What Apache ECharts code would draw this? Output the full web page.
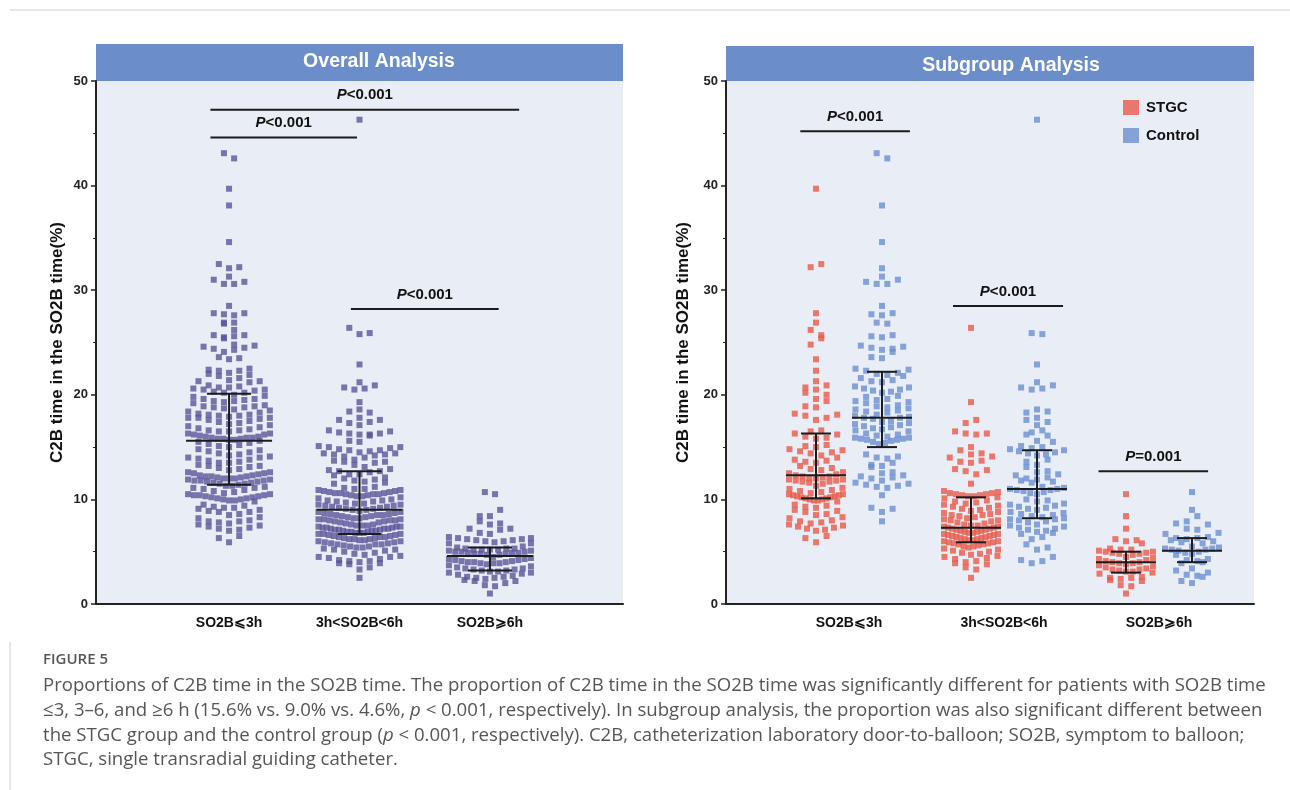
<!DOCTYPE html>
<html><head><meta charset="utf-8">
<script src="https://cdn.jsdelivr.net/npm/echarts@6/dist/echarts.min.js"></script>
<style>html,body{margin:0;padding:0;background:#fff}#c{width:1290px;height:790px}</style>
</head><body><div id="c"></div><script>
// ---------------- DATA ----------------
const categories = ['SO2B⩽3h', '3h<SO2B<6h', 'SO2B⩾6h'];
const yTicks = [0, 10, 20, 30, 40, 50];

const stgcLe3 = [39.7, 32.5, 32.2, 27.8, 26.9, 26.2, 25.7, 25.4, 24.8, 23.4, 22.3, 21.3, 20.9, 20.7, 20.5, 20.2, 20.0, 19.6, 19.4, 18.9, 18.8,
  18.2, 18.1, 18.0, 17.8, 17.6, 16.6, 16.5, 16.3, 16.2, 16.0, 15.9, 15.8,
  15.2, 15.1, 15.0, 14.8, 14.7, 14.6, 14.5, 14.4, 14.2, 14.0, 13.8, 13.7, 13.6, 13.5, 13.2, 13.0, 12.9, 12.8,
  12.6, 12.5, 12.4, 12.3, 12.2, 12.2, 12.1, 12.0, 12.0, 11.9, 11.9, 11.8, 11.8, 11.7, 11.7, 11.6, 11.5,
  11.3, 11.1, 11.0, 10.9, 10.8, 10.7, 10.6, 10.5, 10.5, 10.4, 10.4, 10.3, 10.3, 10.2, 10.2, 10.1, 10.1, 10.0, 10.0, 9.9, 9.9, 9.8,
  9.5, 9.4, 9.3, 9.2, 9.0, 8.9, 8.8, 8.6, 8.5, 8.3, 8.2, 8.0, 7.9, 7.8, 7.7, 7.6, 7.5, 7.4, 7.3, 7.2, 7.1, 7.0, 6.5, 6.3, 5.9];
const ctrlLe3 = [43.1, 42.6, 38.1, 34.6, 32.1, 31.3, 31.0, 30.8, 30.6, 30.6, 28.5, 27.8, 27.7, 27.6, 26.9, 26.8, 25.7, 25.6, 25.5,
  24.7, 24.6, 24.5, 24.4, 24.3, 24.1, 23.6, 23.5, 22.5, 22.4, 22.3, 22.1, 22.0, 21.9, 21.8, 21.6, 21.4, 21.3, 21.2,
  20.8, 20.7, 20.6, 20.5, 20.4, 20.3, 20.2, 19.9, 19.8, 19.6, 19.5, 19.4, 19.3, 19.2,
  19.0, 18.9, 18.8, 18.7, 18.6, 18.5, 18.4, 18.3, 18.1, 18.0, 17.9, 17.8, 17.8, 17.7,
  17.5, 17.4, 17.3, 17.2, 17.1, 17.0, 16.9, 16.8, 16.7, 16.6, 16.5,
  16.3, 16.2, 16.1, 16.0, 15.9, 15.9, 15.8, 15.8, 15.7, 15.7, 15.6, 15.5, 15.4, 15.3,
  14.3, 14.1, 14.0, 13.9, 13.5, 13.3, 13.2, 13.1, 12.6, 12.5, 12.3, 12.2, 12.1, 12.0, 11.8, 11.6, 11.5, 11.4, 11.3, 11.2, 11.1,
  10.4, 9.2, 9.1, 8.8, 7.9];
const stgc3to6 = [26.4, 19.3, 17.6, 17.3, 16.5, 16.3, 16.2, 16.3, 15.0, 14.7, 14.4, 14.3, 14.1, 14.0, 13.7, 13.6, 13.5, 12.9, 12.8, 12.7, 12.4, 11.5,
  10.8, 10.7, 10.6, 10.6, 10.5, 10.5, 10.4, 10.4, 10.3, 10.3, 10.2, 10.1,
  9.9, 9.8, 9.7, 9.6, 9.5, 9.4, 9.3, 9.2, 9.1, 9.0, 8.9, 8.8,
  8.7, 8.6, 8.5, 8.5, 8.4, 8.3, 8.2, 8.1, 8.0, 8.0, 7.9, 7.8, 7.7, 7.6,
  7.5, 7.5, 7.4, 7.4, 7.3, 7.3, 7.2, 7.2, 7.1, 7.1, 7.0, 7.0, 6.9, 6.9, 6.8, 6.8,
  6.7, 6.7, 6.6, 6.6, 6.5, 6.5, 6.4, 6.4, 6.3, 6.3, 6.2, 6.2, 6.1, 6.1, 6.0, 6.0,
  5.9, 5.9, 5.8, 5.8, 5.7, 5.7, 5.6, 5.5, 5.5, 5.4, 5.3, 5.2, 5.1, 5.0,
  4.9, 4.8, 4.7, 4.6, 4.5, 4.4, 4.3, 4.1, 4.0, 3.9, 3.8, 3.5, 3.3, 2.5];
const ctrl3to6 = [46.3, 25.9, 25.8, 22.9, 21.2, 20.9, 20.7, 20.6, 20.5, 18.6, 18.4, 18.3, 17.8, 17.6, 17.4, 17.1, 16.6, 16.4, 16.2, 16.1, 15.6, 15.5,
  15.1, 15.0, 14.9, 14.8, 14.7, 14.6, 14.5, 14.4, 14.3, 14.2,
  13.8, 13.6, 13.3, 13.1, 12.7, 12.6, 12.4, 12.3, 12.1, 12.0, 11.9, 11.8, 11.7, 11.6,
  11.2, 11.1, 11.0, 11.0, 10.9, 10.9, 10.8, 10.7, 10.6, 10.5,
  10.0, 9.9, 9.8, 9.6, 9.5, 9.4, 9.3, 9.2, 9.1, 9.0,
  8.8, 8.7, 8.6, 8.5, 8.4, 8.3, 8.2, 8.1, 8.1, 8.0, 7.9, 7.8,
  7.6, 7.5, 7.4, 7.3, 7.2, 7.1, 7.0, 6.9, 6.8, 6.7,
  6.4, 6.2, 5.7, 5.4, 5.2, 4.5, 4.2, 4.1, 3.9];
const stgcGe6 = [10.5, 8.4, 7.2, 6.2, 6.1, 6.0, 5.8,
  5.3, 5.2, 5.2, 5.1, 5.0, 5.0, 4.9, 4.9, 4.8, 4.8, 4.7,
  4.5, 4.4, 4.3, 4.2, 4.1, 4.0, 4.0, 3.9, 3.9, 3.8, 3.7,
  3.6, 3.5, 3.4, 3.3, 3.3, 3.2, 3.1, 3.1, 3.0, 2.9,
  2.6, 2.5, 2.5, 2.4, 2.3, 2.2, 1.8, 1.7, 1.0];
const ctrlGe6 = [10.7, 9.0, 8.4, 7.9, 7.7, 7.6, 7.2, 7.1, 6.8, 6.7,
  6.4, 6.3, 6.3, 6.2, 6.1, 6.0, 5.9, 5.8,
  5.5, 5.4, 5.3, 5.3, 5.2, 5.2, 5.1, 5.0, 4.9, 4.8, 4.7,
  4.3, 4.2, 4.1, 4.0, 3.9,
  3.4, 3.2, 3.0, 2.8, 2.7, 2.6, 2.2, 2.0];

// median and interquartile range drawn in the figure
const overallMedian = [15.6, 9.0, 4.6];
const overallQ1 = [11.4, 6.7, 3.2];
const overallQ3 = [20.1, 12.7, 5.4];
const stgcMedian = [12.3, 7.3, 4.0];
const stgcQ1 = [10.1, 5.9, 3.0];
const stgcQ3 = [16.3, 10.2, 5.0];
const ctrlMedian = [17.8, 11.0, 5.1];
const ctrlQ1 = [15.0, 8.2, 4.0];
const ctrlQ3 = [22.2, 14.7, 6.3];

// significance annotations: [from x, to x, y value], label
const overallBrackets = [[0.857, 1.981, 44.6], [0.857, 3.224, 47.25], [1.934, 3.067, 28.2]];
const overallBracketText = ['<0.001', '<0.001', '<0.001'];
const subBrackets = [[0.686, 1.393, 45.2], [1.671, 2.381, 28.5], [2.610, 3.317, 12.7]];
const subBracketText = ['<0.001', '<0.001', '=0.001'];

// ---------------- LAYOUT ----------------
const FONT = '"Liberation Sans", Arial, sans-serif';
const G0 = {left: 96, top: 81, width: 527, height: 523, xmin: -0.02, xmax: 4.02};
const G1 = {left: 726, top: 81, width: 528, height: 523, xmin: 0.2065, xmax: 3.613};
const SUB_OFF = 0.213;
const PURPLE = '#5a5498', RED = '#e8594a', BLUE = '#6a8fd0';

// deterministic row-based dot-plot layout (pixel offsets from the group centre)
function rowLayout(values, dx, rowH, maxHalf, pxPerY) {
  const idx = values.map((v, i) => i).sort((a, b) => values[a] - values[b]);
  const out = new Array(values.length);
  let r = 0, flip = 1;
  while (r < idx.length) {
    const y0 = values[idx[r]] * pxPerY;
    let e = r;
    while (e < idx.length && values[idx[e]] * pxPerY - y0 < rowH) e++;
    const n = e - r;
    const sp = n > 1 ? Math.min(dx, 2 * maxHalf / (n - 1)) : dx;
    const slots = [];
    for (let k = 0; k < n; k++) slots.push((k - (n - 1) / 2) * sp);
    slots.sort((a, b) => Math.abs(a) - Math.abs(b) || (a - b) * flip);
    for (let k = 0; k < n; k++) out[idx[r + k]] = slots[k];
    flip = -flip;
    r = e;
  }
  return out;
}
function layoutData(values, centre, g, dx, maxHalf) {
  const pxY = g.height / 50, pxX = g.width / (g.xmax - g.xmin);
  const off = rowLayout(values, dx, 6.8, maxHalf, pxY);
  return values.map((v, i) => [centre + off[i] / pxX, v]);
}

const overallGroups = [stgcLe3.concat(ctrlLe3), stgc3to6.concat(ctrl3to6), stgcGe6.concat(ctrlGe6)];
const stgcGroups = [stgcLe3, stgc3to6, stgcGe6];
const ctrlGroups = [ctrlLe3, ctrl3to6, ctrlGe6];

let overallPts = [], stgcPts = [], ctrlPts = [];
overallGroups.forEach((g, k) => { overallPts = overallPts.concat(layoutData(g, k + 1, G0, 10.2, 41)); });
stgcGroups.forEach((g, k) => { stgcPts = stgcPts.concat(layoutData(g, k + 1 - SUB_OFF, G1, 10.6, 27)); });
ctrlGroups.forEach((g, k) => { ctrlPts = ctrlPts.concat(layoutData(g, k + 1 + SUB_OFF, G1, 10.6, 27)); });

function errRender(halfMed, halfCap) {
  return function (params, api) {
    const x = api.value(0);
    const lo = api.coord([x, api.value(1)]), m = api.coord([x, api.value(2)]), hi = api.coord([x, api.value(3)]);
    const st = {stroke: '#1b1b1b', lineWidth: 2};
    return {type: 'group', children: [
      {type: 'line', shape: {x1: m[0] - halfMed, y1: m[1], x2: m[0] + halfMed, y2: m[1]}, style: st},
      {type: 'line', shape: {x1: lo[0], y1: lo[1], x2: hi[0], y2: hi[1]}, style: st},
      {type: 'line', shape: {x1: lo[0] - halfCap, y1: lo[1], x2: lo[0] + halfCap, y2: lo[1]}, style: st},
      {type: 'line', shape: {x1: hi[0] - halfCap, y1: hi[1], x2: hi[0] + halfCap, y2: hi[1]}, style: st}
    ]};
  };
}
function bracketRender(texts) {
  return function (params, api) {
    const a = api.coord([api.value(0), api.value(2)]), b = api.coord([api.value(1), api.value(2)]);
    return {type: 'group', children: [
      {type: 'line', shape: {x1: a[0], y1: a[1], x2: b[0], y2: b[1]}, style: {stroke: '#1b1b1b', lineWidth: 2}},
      {type: 'text', style: {x: (a[0] + b[0]) / 2, y: a[1] - 7, align: 'center', verticalAlign: 'bottom',
        text: '{i|P}{n|' + texts[params.dataIndex] + '}',
        rich: {i: {fontStyle: 'italic', fontWeight: 'bold', fontSize: 15, fontFamily: FONT, fill: '#111'},
               n: {fontWeight: 'bold', fontSize: 15, fontFamily: FONT, fill: '#111'}}}}
    ]};
  };
}

function xAxisCfg(gi, g) {
  return {type: 'value', gridIndex: gi, min: g.xmin, max: g.xmax,
    axisLine: {show: true, onZero: false, lineStyle: {color: '#222', width: 2}},
    axisTick: {show: false}, splitLine: {show: false},
    axisLabel: {customValues: [1, 2, 3], formatter: v => (Math.abs(v - Math.round(v)) < 1e-6 ? (categories[Math.round(v) - 1] || '') : ''),
      fontSize: 14, fontWeight: 'bold', color: '#111', margin: 12, fontFamily: FONT}};
}
function yAxisCfg(gi, gap) {
  return {type: 'value', gridIndex: gi, min: yTicks[0], max: yTicks[yTicks.length - 1], interval: 10,
    name: 'C2B time in the SO2B time(%)', nameLocation: 'middle', nameGap: gap,
    nameTextStyle: {fontSize: 17, fontWeight: 'bold', color: '#111', fontFamily: FONT},
    axisLine: {show: true, onZero: false, lineStyle: {color: '#222', width: 2}},
    axisTick: {show: true, length: 5, lineStyle: {color: '#222', width: 1.5}},
    minorTick: {show: true, splitNumber: 2, length: 3, lineStyle: {color: '#222', width: 1}},
    splitLine: {show: false}, minorSplitLine: {show: false},
    axisLabel: {fontSize: 13, fontWeight: 'bold', color: '#222', margin: 8, fontFamily: FONT}};
}

const CAP_FAMILY = '"Open Sans", sans-serif', CAP_SIZE = 18.6, CAP_FILL = '#555';
const captionLines = [
  'Proportions of C2B time in the SO2B time. The proportion of C2B time in the SO2B time was significantly different for patients with SO2B time',
  '≤3, 3–6, and ≥6 h (15.6% vs. 9.0% vs. 4.6%, {i|p} < 0.001, respectively). In subgroup analysis, the proportion was also significant different between',
  'the STGC group and the control group ({i|p} < 0.001, respectively). C2B, catheterization laboratory door-to-balloon; SO2B, symptom to balloon;',
  'STGC, single transradial guiding catheter.'
];

const graphics = [
  {type: 'line', shape: {x1: 10, y1: 10, x2: 1290, y2: 10}, style: {stroke: '#cfcfcf', lineWidth: 1}},
  {type: 'line', shape: {x1: 10, y1: 642, x2: 10, y2: 790}, style: {stroke: '#cfcfcf', lineWidth: 1}},
  {type: 'rect', shape: {x: G0.left, y: 44, width: G0.width, height: 37}, style: {fill: '#6b8dc9'}},
  {type: 'text', style: {x: 379, y: 62, text: 'Overall Analysis', align: 'center', verticalAlign: 'middle',
    font: 'bold 19.5px ' + FONT, fill: '#fff'}},
  {type: 'rect', shape: {x: G1.left, y: 46, width: G1.width, height: 35}, style: {fill: '#6b8dc9'}},
  {type: 'text', style: {x: 1011, y: 66, text: 'Subgroup Analysis', align: 'center', verticalAlign: 'middle',
    font: 'bold 19.5px ' + FONT, fill: '#fff'}},
  {type: 'text', style: {x: 43, y: 660, text: 'FIGURE 5', verticalAlign: 'middle', font: '600 15px ' + CAP_FAMILY, fill: '#555'}}
];
captionLines.forEach((t, i) => {
  graphics.push({type: 'text', style: {x: 43, y: 686 + i * 24.7, text: t, verticalAlign: 'middle',
    fontSize: CAP_SIZE, fontFamily: CAP_FAMILY, fill: CAP_FILL,
    rich: {i: {fontStyle: 'italic', fontSize: CAP_SIZE, fontFamily: CAP_FAMILY, fill: CAP_FILL}}}});
});

const chart = echarts.init(document.getElementById('c'), null, {renderer: 'canvas'});
chart.setOption({
  animation: false,
  backgroundColor: '#fff',
  grid: [
    {left: G0.left, top: G0.top, width: G0.width, height: G0.height, show: true, backgroundColor: '#e9edf5', borderWidth: 0},
    {left: G1.left, top: G1.top, width: G1.width, height: G1.height, show: true, backgroundColor: '#e9edf5', borderWidth: 0}
  ],
  xAxis: [xAxisCfg(0, G0), xAxisCfg(1, G1)],
  yAxis: [yAxisCfg(0, 30), yAxisCfg(1, 34)],
  legend: {data: ['STGC', 'Control'], orient: 'vertical', left: 1118, top: 95, itemWidth: 16, itemHeight: 15, itemGap: 13,
    icon: 'rect', textStyle: {fontSize: 15, fontWeight: 'bold', color: '#111', fontFamily: FONT, padding: [0, 0, 0, 2]}},
  graphic: graphics,
  series: [
    {type: 'scatter', name: 'Overall', xAxisIndex: 0, yAxisIndex: 0, symbol: 'rect', symbolSize: 6, silent: true,
      itemStyle: {color: PURPLE}, data: overallPts},
    {type: 'custom', xAxisIndex: 0, yAxisIndex: 0, z: 5, silent: true, renderItem: errRender(43, 22),
      encode: {x: 0, y: [1, 2, 3]}, data: [0, 1, 2].map(k => [k + 1, overallQ1[k], overallMedian[k], overallQ3[k]])},
    {type: 'custom', xAxisIndex: 0, yAxisIndex: 0, z: 5, silent: true, renderItem: bracketRender(overallBracketText),
      encode: {x: [0, 1], y: 2}, data: overallBrackets},
    {type: 'scatter', name: 'STGC', xAxisIndex: 1, yAxisIndex: 1, symbol: 'rect', symbolSize: 6, silent: true,
      itemStyle: {color: RED}, data: stgcPts},
    {type: 'scatter', name: 'Control', xAxisIndex: 1, yAxisIndex: 1, symbol: 'rect', symbolSize: 6, silent: true,
      itemStyle: {color: BLUE}, data: ctrlPts},
    {type: 'custom', xAxisIndex: 1, yAxisIndex: 1, z: 5, silent: true, renderItem: errRender(30, 15),
      encode: {x: 0, y: [1, 2, 3]},
      data: [0, 1, 2].map(k => [k + 1 - SUB_OFF, stgcQ1[k], stgcMedian[k], stgcQ3[k]])
        .concat([0, 1, 2].map(k => [k + 1 + SUB_OFF, ctrlQ1[k], ctrlMedian[k], ctrlQ3[k]]))},
    {type: 'custom', xAxisIndex: 1, yAxisIndex: 1, z: 5, silent: true, renderItem: bracketRender(subBracketText),
      encode: {x: [0, 1], y: 2}, data: subBrackets}
  ]
});
</script></body></html>
